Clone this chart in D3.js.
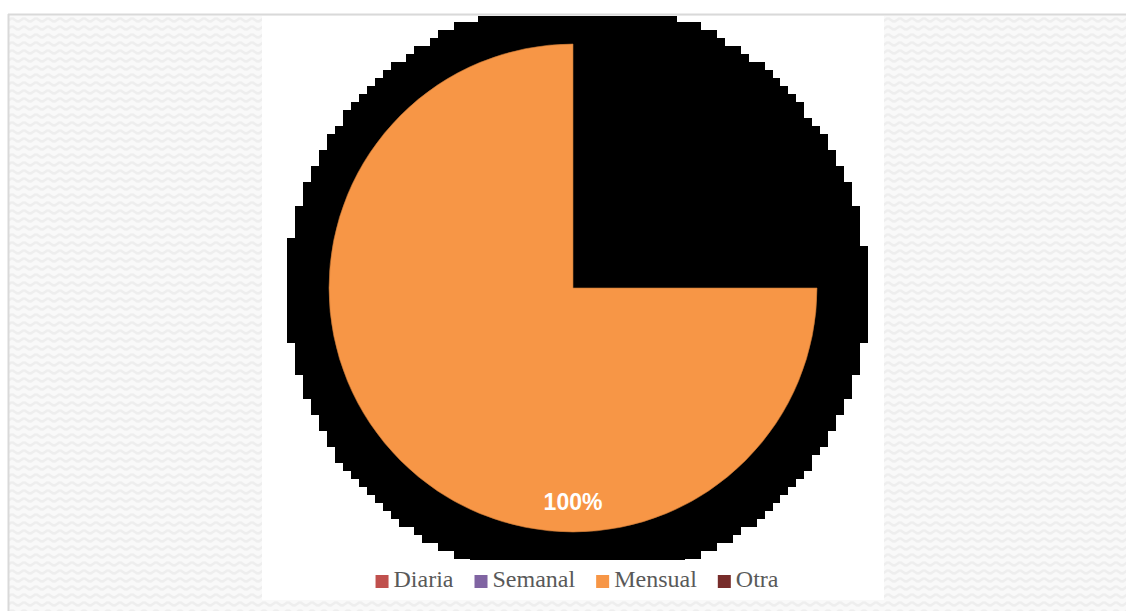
<!DOCTYPE html>
<html>
<head>
<meta charset="utf-8">
<script src="https://cdn.jsdelivr.net/npm/d3@7/dist/d3.min.js"></script>
<style>
  html, body { margin: 0; padding: 0; background: #ffffff; }
  svg { display: block; }
</style>
</head>
<body>
<svg id="chart" width="1126" height="611"></svg>
<script>
// Frequency categories and their shares
const categories = ["Diaria", "Semanal", "Mensual", "Otra"];
const values = [0, 0, 100, 0];
const colors = ["#C0504D", "#8064A2", "#F79646", "#772C2A"];

const W = 1126, H = 611;
const svg = d3.select("#chart");

// --- textured page background -------------------------------------------
const defs = svg.append("defs");
const pat = defs.append("pattern")
  .attr("id", "weave")
  .attr("width", 12).attr("height", 8)
  .attr("patternUnits", "userSpaceOnUse");
pat.append("rect").attr("width", 12).attr("height", 8).attr("fill", "#f9f9f9");
pat.append("path")
  .attr("d", "M0,2 L6,6 M6,6 L12,2 M0,10 L6,14 L12,10 M0,-6 L6,-2 L12,-6")
  .attr("fill", "none").attr("stroke", "#eeeeee").attr("stroke-width", 2.6);

const frame = { x: 8, y: 14 };
svg.append("rect")
  .attr("x", frame.x + 1).attr("y", frame.y + 1)
  .attr("width", W - frame.x).attr("height", H - frame.y)
  .attr("fill", "url(#weave)");
svg.append("line")
  .attr("x1", frame.x).attr("x2", W).attr("y1", frame.y + 0.5).attr("y2", frame.y + 0.5)
  .attr("stroke", "#d9d9d9").attr("stroke-width", 2);
svg.append("line")
  .attr("x1", frame.x + 0.5).attr("x2", frame.x + 0.5).attr("y1", frame.y).attr("y2", H)
  .attr("stroke", "#d9d9d9").attr("stroke-width", 2);

// --- white chart panel ---------------------------------------------------
const panel = { x: 262, y: 16, w: 622, h: 584 };
svg.append("rect")
  .attr("x", panel.x).attr("y", panel.y)
  .attr("width", panel.w).attr("height", panel.h)
  .attr("fill", "#ffffff");

// --- coarse, blocky backdrop disc behind the pie --------------------------
const disc = { cx: 577, cy: 291, r: 291, cellX: 557 / 70, cellY: 8, ox: 311, oy: 54 };
const plotClip = { top: 16, bottom: 560 };
defs.append("clipPath").attr("id", "plotClip")
  .append("rect")
  .attr("x", panel.x).attr("y", plotClip.top)
  .attr("width", panel.w).attr("height", plotClip.bottom - plotClip.top);

const rowIdx = d3.range(Math.floor((disc.cy - disc.r - disc.oy) / disc.cellY) - 1,
                        Math.ceil((disc.cy + disc.r - disc.oy) / disc.cellY) + 1);
const rows = rowIdx.map(i => {
  const y0 = disc.oy + i * disc.cellY;
  const yc = y0 + disc.cellY / 2;
  const dy = yc - disc.cy;
  if (Math.abs(dy) >= disc.r) return null;
  const half = Math.sqrt(disc.r * disc.r - dy * dy);
  const kMin = Math.ceil((disc.cx - half - disc.ox) / disc.cellX - 0.5);
  const kMax = Math.floor((disc.cx + half - disc.ox) / disc.cellX - 0.5);
  if (kMax < kMin) return null;
  return {
    y: y0,
    x0: disc.ox + kMin * disc.cellX,
    x1: disc.ox + (kMax + 1) * disc.cellX
  };
}).filter(d => d);

svg.append("g").attr("clip-path", "url(#plotClip)")
  .selectAll("rect").data(rows).join("rect")
  .attr("x", d => Math.round(d.x0))
  .attr("y", d => d.y)
  .attr("width", d => Math.round(d.x1) - Math.round(d.x0))
  .attr("height", disc.cellY + 0.5)
  .attr("fill", "#000000")
  .attr("shape-rendering", "crispEdges");

// --- pie ----------------------------------------------------------------
const center = { x: 573, y: 288 };
const radius = 244;
const total = d3.sum(values);
const data = categories.map((c, i) => ({ name: c, value: values[i], color: colors[i] }));

const pie = d3.pie()
  .value(d => d.value)
  .sort(null)
  .startAngle(Math.PI / 2)
  .endAngle(2 * Math.PI);
const arc = d3.arc().innerRadius(0).outerRadius(radius);
const arcs = pie(data);

const g = svg.append("g").attr("transform", `translate(${center.x},${center.y})`);
g.selectAll("path.slice")
  .data(arcs.filter(d => d.value > 0))
  .join("path")
  .attr("class", "slice")
  .attr("d", arc)
  .attr("fill", d => d.data.color)
  .attr("stroke", "#c57634")
  .attr("stroke-width", 0.6);

// data label sits near the lower rim
const labelArc = d3.arc().innerRadius(radius * 0.9).outerRadius(radius * 0.9);
const labelPos = labelArc.centroid({ startAngle: Math.PI, endAngle: Math.PI });
g.selectAll("text.val")
  .data(arcs.filter(d => d.value > 0))
  .join("text")
  .attr("class", "val")
  .attr("x", labelPos[0])
  .attr("y", labelPos[1] + 2)
  .attr("text-anchor", "middle")
  .attr("font-family", "'Liberation Sans', Arial, sans-serif")
  .attr("font-weight", "bold")
  .attr("font-size", 23)
  .attr("fill", "#ffffff")
  .text(d => d3.format(".0%")(d.value / total));

// --- legend ---------------------------------------------------------------
const legend = svg.append("g");
const sw = 13, gapText = 5, gapItem = 21;
const items = legend.selectAll("g.item").data(data).join("g").attr("class", "item");
items.append("rect")
  .attr("width", sw).attr("height", sw)
  .attr("y", 575)
  .attr("fill", d => d.color);
items.append("text")
  .attr("x", sw + gapText)
  .attr("y", 587)
  .attr("font-family", "'Liberation Serif', 'Times New Roman', serif")
  .attr("font-size", 24)
  .attr("fill", "#595959")
  .text(d => d.name);

let widths = [];
items.each(function () {
  widths.push(sw + gapText + d3.select(this).select("text").node().getComputedTextLength());
});
const totalW = d3.sum(widths) + gapItem * (widths.length - 1);
let xPos = disc.cx - totalW / 2;
items.attr("transform", (d, i) => {
  const t = `translate(${xPos},0)`;
  xPos += widths[i] + gapItem;
  return t;
});
</script>
</body>
</html>
